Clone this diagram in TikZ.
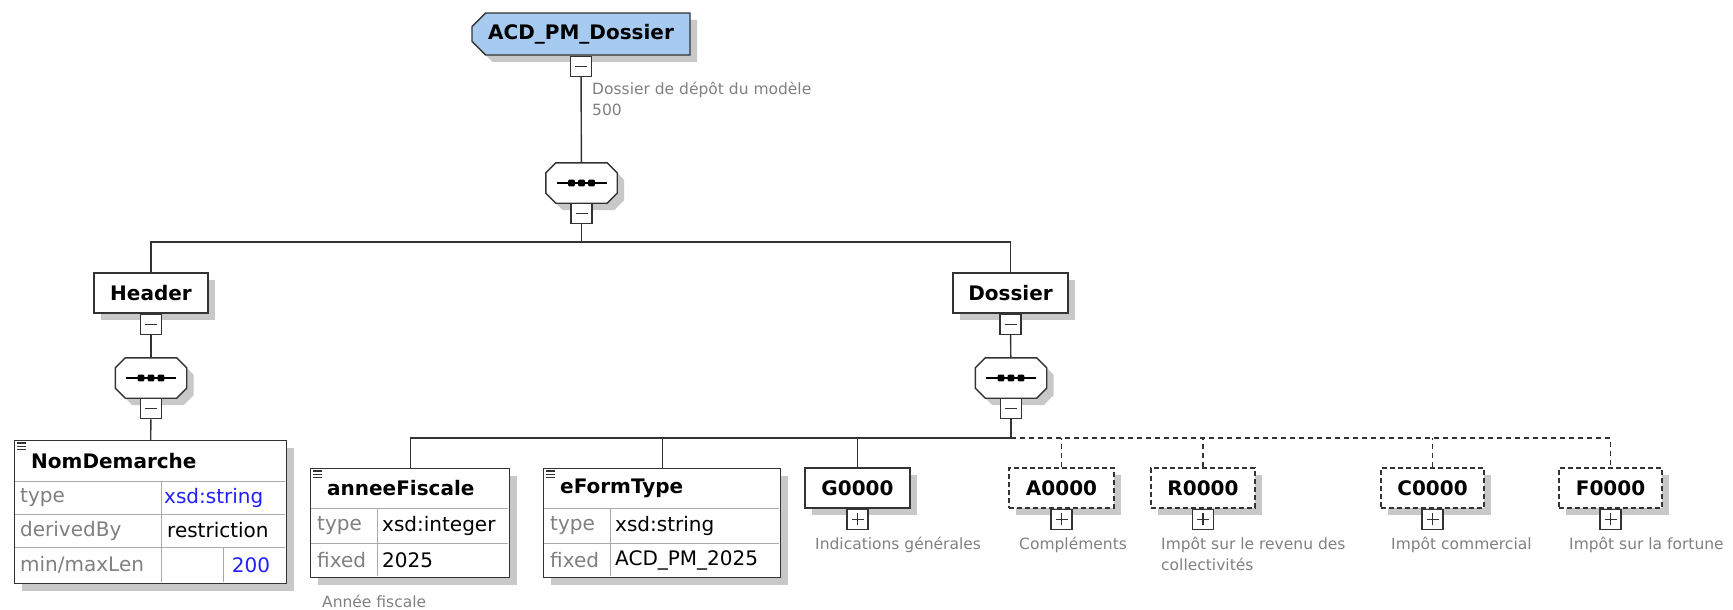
\documentclass[tikz,border=0pt]{standalone}
\usepackage{fontspec}
\setmainfont{DejaVu Sans}
\usetikzlibrary{positioning,shapes.misc,shadows}

\definecolor{rootblue}{RGB}{166,202,240}
\definecolor{descgray}{RGB}{128,128,128}
\definecolor{labelgray}{RGB}{128,128,128}
\definecolor{xsdblue}{RGB}{32,32,255}
\definecolor{linegray}{RGB}{51,51,51}
\definecolor{rulegray}{RGB}{170,170,170}
\definecolor{shadowgray}{RGB}{200,200,200}

\tikzset{
  conn/.style={line width=1.4pt, draw=linegray},
  optconn/.style={conn, dash pattern=on 5pt off 4pt},
  boxshadow/.style={drop shadow={shadow xshift=7pt, shadow yshift=-7pt, fill=shadowgray, opacity=1}},
  elem/.style={rectangle, draw=linegray, line width=1.4pt, fill=white, boxshadow,
    font=\fontsize{20}{24}\selectfont\bfseries, minimum height=40pt, inner sep=0pt},
  optelem/.style={elem, dash pattern=on 5pt off 3pt},
  rootelem/.style={elem, chamfered rectangle, chamfered rectangle corners={north west,south west},
    chamfered rectangle xsep=11pt, fill=rootblue, minimum width=218pt, minimum height=42pt},
  seqbox/.style={rectangle, minimum width=71pt, minimum height=40pt, inner sep=0pt},
  seqline/.style={draw=linegray, line width=1.4pt, fill=white, boxshadow},
  minusbox/.style={rectangle, draw=linegray, line width=1.2pt, fill=white,
    minimum width=21pt, minimum height=20pt, inner sep=0pt,
    path picture={
      \draw[line width=1.3pt] ([xshift=-6pt]path picture bounding box.center)
        -- ([xshift=6pt]path picture bounding box.center);
    }},
  plusbox/.style={rectangle, draw=linegray, line width=1.2pt, fill=white,
    minimum width=21pt, minimum height=20pt, inner sep=0pt,
    path picture={
      \draw[line width=1.3pt] ([xshift=-6pt]path picture bounding box.center)
        -- ([xshift=6pt]path picture bounding box.center);
      \draw[line width=1.3pt] ([yshift=-6pt]path picture bounding box.center)
        -- ([yshift=6pt]path picture bounding box.center);
    }},
  desc/.style={text=descgray, font=\fontsize{15.5}{20.5}\selectfont, anchor=base west,
    align=left, inner sep=0pt},
  tabbox/.style={rectangle, draw=linegray, line width=1.4pt, fill=white, boxshadow,
    anchor=north west, inner sep=0pt, minimum height=109pt},
  tabtitle/.style={font=\fontsize{20}{24}\selectfont\bfseries, anchor=west, inner sep=0pt},
  tablabel/.style={text=labelgray, font=\fontsize{20}{24}\selectfont, anchor=west, inner sep=0pt},
  tabvalue/.style={tablabel, text=black},
  tabrule/.style={draw=rulegray, line width=1pt},
  tabicon/.style={draw=linegray, line width=1.2pt},
}

\begin{document}
\begin{tikzpicture}[x=1pt, y=-1pt]
  \useasboundingbox (0,0) rectangle (1733,610);

  % Root element and its sequence
  \node[rootelem] (root) at (581,34) {ACD\_PM\_Dossier};
  \node[minusbox, below=0pt of root] (rootminus) {};
  \node[desc] (rootdesc) at (592,115) {Dossier de dépôt du modèle\\500};
  \node[seqbox] (seq0) at (581.5,183) {};
  \coordinate (bus1) at (581.5,242);

  % Header and Dossier
  \node[elem, minimum width=114pt] (header) at (151,293) {Header};
  \node[minusbox, below=0pt of header] (hdrminus) {};
  \node[seqbox] (hdrseq) at (151,378) {};
  \node[elem, minimum width=115pt] (dossier) at (1010.5,293) {Dossier};
  \node[minusbox, below=0pt of dossier] (dosminus) {};
  \node[seqbox] (dosseq) at (1011,378) {};
  \coordinate (bus2) at (1011,438);

  % Sequence compositors
  \foreach \s in {seq0,hdrseq,dosseq} {
    \path[seqline] ([xshift=10pt]\s.north west) -- ([xshift=-10pt]\s.north east)
      -- ([yshift=-10pt]\s.north east) -- ([yshift=10pt]\s.south east)
      -- ([xshift=-10pt]\s.south east) -- ([xshift=10pt]\s.south west)
      -- ([yshift=10pt]\s.south west) -- ([yshift=-10pt]\s.north west) -- cycle;
    \draw[line width=1.2pt] ([xshift=-25pt]\s.center) -- ([xshift=25pt]\s.center);
    \foreach \dx in {-10pt,0pt,10pt}
      \fill[rounded corners=1pt] ([xshift=\dx]\s.center) +(-3.3,-3.3) rectangle +(3.3,3.3);
  }
  \node[minusbox, below=0pt of seq0] (seq0minus) {};
  \node[minusbox, below=0pt of hdrseq] (hdrseqminus) {};
  \node[minusbox, below=0pt of dosseq] (dosseqminus) {};

  % Header content
  \node[tabbox, minimum width=272pt, minimum height=143pt] (nomdem) at (14,440) {};
  \foreach \dy in {0,3.4,6.8}
    \draw[tabicon] (17,443+\dy) -- (26,443+\dy);
  \node[tabtitle] (nomdem-title) at (31,461) {NomDemarche};
  \draw[tabrule] (15,481) -- (285,481);
  \draw[tabrule] (15,514) -- (285,514);
  \draw[tabrule] (15,547) -- (285,547);
  \draw[tabrule] (161,482) -- (161,582);
  \draw[tabrule] (223,548) -- (223,582);
  \node[tablabel] (nomdem-l1) at (20,497.5) {type};
  \node[tablabel] (nomdem-l2) at (20,530.5) {derivedBy};
  \node[tablabel] (nomdem-l3) at (20,565) {min/maxLen};
  \node[tabvalue, text=xsdblue] (nomdem-v1) at (164,497.5) {xsd:string};
  \node[tabvalue] (nomdem-v2) at (167,530.5) {restriction};
  \node[tabvalue, text=xsdblue, anchor=center] (nomdem-v3) at (251,565) {200};

  % Dossier content
  \node[tabbox, minimum width=199pt] (annee) at (310,468) {};
  \foreach \dy in {0,3.4,6.8}
    \draw[tabicon] (313,471+\dy) -- (322,471+\dy);
  \node[tabtitle] (annee-title) at (327,488) {anneeFiscale};
  \draw[tabrule] (311,508) -- (508,508);
  \draw[tabrule] (311,543) -- (508,543);
  \draw[tabrule] (377,509) -- (377,576);
  \node[tablabel] (annee-l1) at (317,525.5) {type};
  \node[tablabel] (annee-l2) at (317,560) {fixed};
  \node[tabvalue] (annee-v1) at (382,525.5) {xsd:integer};
  \node[tabvalue] (annee-v2) at (382,560) {2025};
  \node[desc] (anneedesc) at (322,607) {Année fiscale};

  \node[tabbox, minimum width=237pt] (eform) at (543,468) {};
  \foreach \dy in {0,3.4,6.8}
    \draw[tabicon] (546,471+\dy) -- (555,471+\dy);
  \node[tabtitle] (eform-title) at (560,488) {eFormType};
  \draw[tabrule] (544,508) -- (779,508);
  \draw[tabrule] (544,543) -- (779,543);
  \draw[tabrule] (610,509) -- (610,576);
  \node[tablabel] (eform-l1) at (550,525.5) {type};
  \node[tablabel] (eform-l2) at (550,560) {fixed};
  \node[tabvalue] (eform-v1) at (615,525.5) {xsd:string};
  \node[tabvalue] (eform-v2) at (615,560) {ACD\_PM\_2025};

  \node[elem, minimum width=105pt] (g0000) at (857.5,488) {G0000};
  \node[plusbox, below=0pt of g0000] (gplus) {};
  \node[desc] (gdesc) at (815,549) {Indications générales};
  \node[optelem, minimum width=105pt] (a0000) at (1061.5,488) {A0000};
  \node[plusbox, below=0pt of a0000] (aplus) {};
  \node[desc] (adesc) at (1019,549) {Compléments};
  \node[optelem, minimum width=104pt] (r0000) at (1203,488) {R0000};
  \node[plusbox, below=0pt of r0000] (rplus) {};
  \node[desc] (rdesc) at (1161,570) {Impôt sur le revenu des\\collectivités};
  \node[optelem, minimum width=103pt] (c0000) at (1432.5,488) {C0000};
  \node[plusbox, below=0pt of c0000] (cplus) {};
  \node[desc] (cdesc) at (1391,549) {Impôt commercial};
  \node[optelem, minimum width=103pt] (f0000) at (1610.5,488) {F0000};
  \node[plusbox, below=0pt of f0000] (fplus) {};
  \node[desc] (fdesc) at (1569,549) {Impôt sur la fortune};

  % Connect the elements
  \draw[conn] (rootminus) -- (seq0);
  \draw[conn] (seq0minus) -- (bus1);
  \draw[conn] (header.north) |- (bus1) -| (dossier.north);
  \draw[conn] (hdrminus) -- (hdrseq);
  \draw[conn] (hdrseqminus) -- (nomdem.north);
  \draw[conn] (dosminus) -- (dosseq);
  \draw[conn] (dosseqminus) -- (bus2);
  \draw[conn] (annee.north) |- (bus2);
  \draw[conn] (eform.north) -- (eform.north |- bus2);
  \draw[conn] (g0000.north) -- (g0000.north |- bus2);
  \draw[optconn] (bus2) -| (f0000.north);
  \draw[optconn] (a0000.north) -- (a0000.north |- bus2);
  \draw[optconn] (r0000.north) -- (r0000.north |- bus2);
  \draw[optconn] (c0000.north) -- (c0000.north |- bus2);
\end{tikzpicture}
\end{document}
